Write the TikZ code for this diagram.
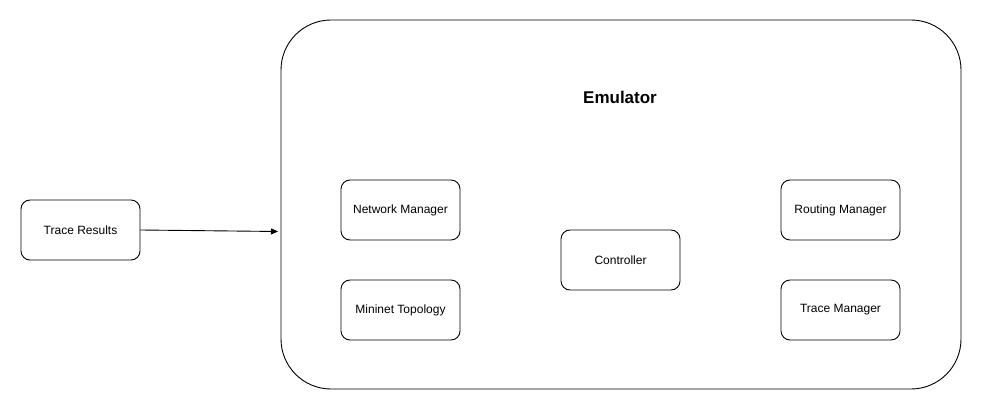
\documentclass[tikz,border=0pt]{standalone}
\usepackage{fontspec}
\setmainfont{Liberation Sans}
\usetikzlibrary{arrows.meta}
\begin{document}
\begin{tikzpicture}[x=1pt,y=-1pt,
  box/.style={draw, line width=0.9pt, rounded corners=9pt, minimum width=119pt, minimum height=60pt, inner sep=0pt, font=\fontsize{12}{14}\selectfont},
  conn/.style={line width=0.9pt, -{Triangle[length=7pt,width=6pt]}}]
\useasboundingbox (0,0) rectangle (981,411);
\node[draw, line width=0.9pt, rounded corners=50pt, minimum width=680pt, minimum height=369pt, inner sep=0pt] (emu) at (621,204.5) {};
\node[font=\fontsize{17}{20}\selectfont\bfseries] (title) at (620,97) {Emulator};
\node[box] (trace) at (80.5,230) {Trace Results};
\node[box] (net) at (400.5,210) {Network Manager};
\node[box] (mini) at (400.5,310) {Mininet Topology};
\node[box] (ctrl) at (620.5,260) {Controller};
\node[box] (route) at (840.5,210) {Routing Manager};
\node[box] (tman) at (840.5,310) {Trace Manager};
\coordinate (tip) at (278,231.5);
\draw[conn] (trace.east) -- (tip);
\end{tikzpicture}
\end{document}
